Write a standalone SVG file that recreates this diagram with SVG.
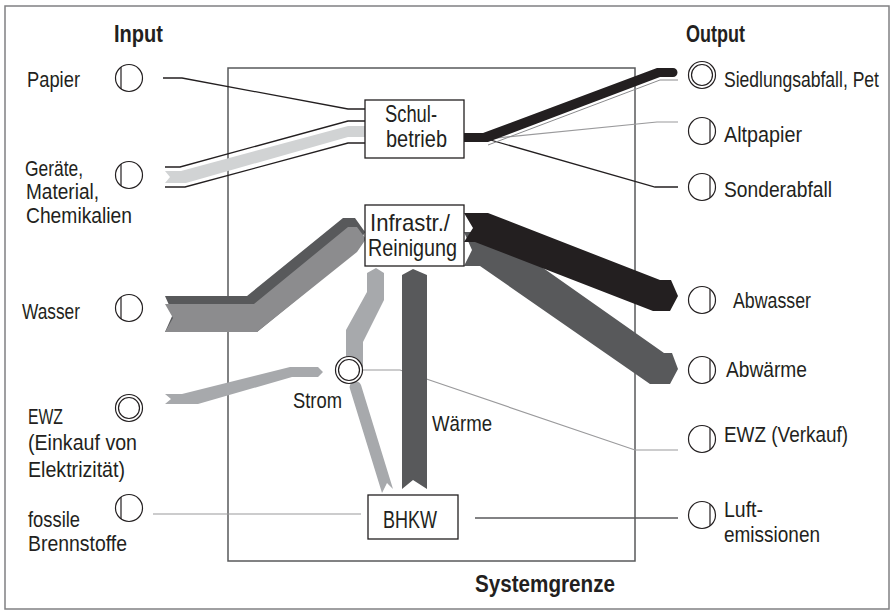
<svg xmlns="http://www.w3.org/2000/svg" xmlns:xlink="http://www.w3.org/1999/xlink" width="895" height="611" viewBox="0 0 895 611">
<style>
text{font-family:"Liberation Sans",Arial,sans-serif;fill:#231f20;font-size:22.5px}
.b{font-weight:bold;font-size:23px}
.bx{font-size:24px}
.sm{font-size:21.5px}
.sym circle,.sym line{fill:#fff;stroke:#231f20;stroke-width:1.2}
.box{fill:#fff;stroke:#231f20;stroke-width:1.3}
.thin{fill:none;stroke:#231f20;stroke-width:1.3}
.gl{fill:none;stroke:#9a9a9c;stroke-width:1.2}
</style>
<defs>
<g id="cin" class="sym"><circle r="13.5"/><line x1="-8" y1="-10.9" x2="-8" y2="10.9"/></g>
<g id="cout" class="sym"><circle r="13.5"/><line x1="8" y1="-10.9" x2="8" y2="10.9"/></g>
<g id="cdbl" class="sym"><circle r="13.5"/><circle r="10.5"/></g>
</defs>
<rect x="5" y="6" width="884" height="603" fill="#fff" stroke="#808082" stroke-width="1.5"/>
<rect x="228" y="68" width="407" height="493" fill="none" stroke="#58595b" stroke-width="1.5"/>
<text class="b" x="114" y="42" textLength="49" lengthAdjust="spacingAndGlyphs">Input</text>
<text class="b" x="686" y="42" textLength="59" lengthAdjust="spacingAndGlyphs">Output</text>
<text class="b" x="475" y="592" textLength="140" lengthAdjust="spacingAndGlyphs">Systemgrenze</text>

<g id="connectors">
<!-- Papier -->
<polyline class="thin" points="163,78 182,78 348,109 365,109"/>
<!-- Geraete -->
<polygon fill="#d1d3d4" points="165,171 181,171 348,126 365,126 365,137 348,137 186,183 165,183 170,177"/>
<polyline class="thin" points="165,167 180,167 348,121 365,121"/>
<polyline class="thin" points="165,187 185,187 348,143 365,143"/>
<!-- Schulbetrieb outputs -->
<polyline class="gl" points="487,139 657,122 678,122"/>
<polyline class="thin" points="487,139 655,187 678,187"/>
<polyline fill="none" stroke="#8a8a8c" stroke-width="1" points="488,145 660,80 678,80"/>
<path fill="#231f20" d="M464,133 L483,133 L657,68 L673,68 A4.5,4.5 0 0 1 673,77 L660,77 L488,142 L464,142 Z"/>
<!-- Wasser -->
<polygon fill="#58595b" points="165,296 247,296 343,218 355,218 365,232 355,252 257,332 165,332 173,314"/>
<polygon fill="#8c8c8e" points="165,304 254,304 348,227 357,227 366,239 357,252 257,332 165,332 173,318"/>
<!-- Abwaerme -->
<polygon fill="#58595b" points="464,232 492,232 664,353 672,353 678,369 670,384 650,384 480,266 464,266 472,250"/>
<!-- Abwasser -->
<polygon fill="#231f20" points="464,213 488,213 660,280 671,280 678,296 670,311 653,311 475,242 464,242 473,228"/>
<!-- EWZ Verkauf line -->
<polyline class="gl" stroke-width="1.5" points="362,370 400,370 635,450 678,450"/>
<!-- fossile -->
<line class="gl" x1="153" y1="514" x2="361" y2="514"/>
<!-- Luft -->
<line x1="475" y1="518" x2="678" y2="518" stroke="#58595b" stroke-width="1.5"/>
<!-- Strom EWZ in -->
<polygon fill="#a7a9ac" points="165,394 182,394 290,367 318,367 323,372 318,377 292,377 198,404 165,404 171,399"/>
<!-- Strom to Infrastr -->
<polygon fill="#a7a9ac" points="346,368 346,330 367,292 367,273 376,268 384,273 384,300 363,342 363,368"/>
<!-- Strom from BHKW -->
<path fill="#a7a9ac" d="M350,389 A5.5,5.5 0 0 1 361,385 L393,489 L387,483 L382,493 Z"/>
<!-- Waerme -->
<polygon fill="#58595b" points="402,275 413,269 427,275 427,489 413,480 402,489"/>
</g>

<g id="node-schulbetrieb"><rect class="box" x="365" y="100" width="99" height="58"/>
<text class="bx" x="385" y="122" textLength="52" lengthAdjust="spacingAndGlyphs">Schul-</text>
<text class="bx" x="386" y="147" textLength="61" lengthAdjust="spacingAndGlyphs">betrieb</text></g>
<g id="node-infrastr"><rect class="box" x="365" y="205" width="99" height="61"/>
<text class="bx" x="370" y="231" textLength="80" lengthAdjust="spacingAndGlyphs">Infrastr./</text>
<text class="bx" x="368" y="256" textLength="89" lengthAdjust="spacingAndGlyphs">Reinigung</text></g>
<g id="node-bhkw"><rect class="box" x="368" y="495" width="90" height="44"/>
<text class="bx" x="383" y="528" textLength="54" lengthAdjust="spacingAndGlyphs">BHKW</text></g>
<g id="node-strom"><use xlink:href="#cdbl" x="349" y="370"/>
<text x="293" y="408" textLength="49" lengthAdjust="spacingAndGlyphs">Strom</text></g>
<g id="label-waerme"><text x="432" y="431" textLength="60" lengthAdjust="spacingAndGlyphs">Wärme</text></g>

<g id="in-papier"><use xlink:href="#cin" x="129" y="78"/>
<text x="27" y="87" textLength="53" lengthAdjust="spacingAndGlyphs">Papier</text></g>
<g id="in-geraete"><use xlink:href="#cin" x="129" y="175"/>
<text class="sm" x="25" y="176" textLength="58" lengthAdjust="spacingAndGlyphs">Geräte,</text>
<text class="sm" x="26" y="199" textLength="73" lengthAdjust="spacingAndGlyphs">Material,</text>
<text class="sm" x="26" y="223" textLength="106" lengthAdjust="spacingAndGlyphs">Chemikalien</text></g>
<g id="in-wasser"><use xlink:href="#cin" x="129" y="308"/>
<text x="22" y="319" textLength="58" lengthAdjust="spacingAndGlyphs">Wasser</text></g>
<g id="in-ewz"><use xlink:href="#cdbl" x="129" y="408"/>
<text x="28" y="424" textLength="35" lengthAdjust="spacingAndGlyphs">EWZ</text>
<text x="28" y="450" textLength="109" lengthAdjust="spacingAndGlyphs">(Einkauf von</text>
<text x="28" y="477" textLength="97" lengthAdjust="spacingAndGlyphs">Elektrizität)</text></g>
<g id="in-fossile"><use xlink:href="#cin" x="129" y="508"/>
<text x="28" y="527" textLength="52" lengthAdjust="spacingAndGlyphs">fossile</text>
<text x="28" y="551" textLength="99" lengthAdjust="spacingAndGlyphs">Brennstoffe</text></g>

<g id="out-siedlung"><use xlink:href="#cdbl" x="702" y="75"/>
<text transform="translate(724,87) scale(0.78,1)">Siedlungsabfall, Pet</text></g>
<g id="out-altpapier"><use xlink:href="#cout" x="702" y="131"/>
<text x="724" y="142" textLength="78" lengthAdjust="spacingAndGlyphs">Altpapier</text></g>
<g id="out-sonder"><use xlink:href="#cout" x="702" y="187"/>
<text x="724" y="197" textLength="108" lengthAdjust="spacingAndGlyphs">Sonderabfall</text></g>
<g id="out-abwasser"><use xlink:href="#cout" x="702" y="300"/>
<text x="733" y="308" textLength="78" lengthAdjust="spacingAndGlyphs">Abwasser</text></g>
<g id="out-abwaerme"><use xlink:href="#cout" x="702" y="370"/>
<text x="726" y="377" textLength="81" lengthAdjust="spacingAndGlyphs">Abwärme</text></g>
<g id="out-ewz"><use xlink:href="#cout" x="702" y="439"/>
<text x="724" y="442" textLength="124" lengthAdjust="spacingAndGlyphs">EWZ (Verkauf)</text></g>
<g id="out-luft"><use xlink:href="#cout" x="702" y="515"/>
<text x="724" y="517" textLength="39" lengthAdjust="spacingAndGlyphs">Luft-</text>
<text x="724" y="542" textLength="96" lengthAdjust="spacingAndGlyphs">emissionen</text></g>
</svg>
